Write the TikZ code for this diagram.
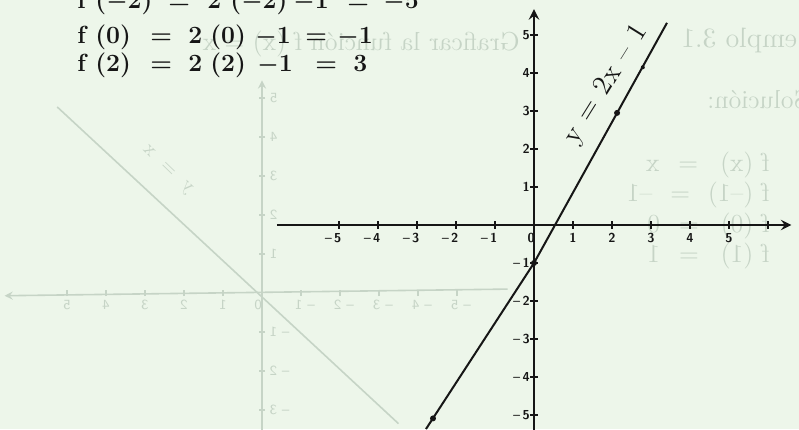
\documentclass[tikz,border=0pt]{standalone}
\usepackage{fontspec}
\usetikzlibrary{arrows,positioning}

\definecolor{paper}{RGB}{237,246,234}
\definecolor{ghost}{RGB}{198,212,198}
\definecolor{ink}{RGB}{22,22,22}

% one piece of a worked value, in a box of fixed width
\newcommand{\valcell}[2]{\makebox[#1][l]{#2}}

\begin{document}
\begin{tikzpicture}[
    x=0.5pt, y=-0.5pt,
    eqline/.style={
        anchor=base west,
        inner sep=0pt,
        text=ink,
        font=\fontsize{12.4}{14}\selectfont\bfseries\boldmath
    },
    ticklabel/.style={
        inner sep=0pt,
        text=ink,
        font=\fontsize{6.5}{7}\selectfont\sffamily\bfseries
    },
    axis/.style={
        draw=ink,
        line width=1.3pt,
        -stealth
    },
    tickmark/.style={
        draw=ink,
        line width=0.9pt
    },
    graph/.style={
        draw=ink,
        line width=1pt
    },
    dot/.style={
        circle,
        fill=ink,
        inner sep=0pt,
        minimum size=3pt
    },
    ghostline/.style={
        draw=ghost,
        line width=0.8pt
    },
    ghosttext/.style={
        xscale=-1,
        inner sep=0pt,
        text=ghost,
        font=\fontsize{13}{15}\selectfont
    },
    ghostnum/.style={
        ghosttext,
        font=\fontsize{7}{8}\selectfont\sffamily
    }
]

    % --- Paper ---
    \fill [paper] (0,0) rectangle (799,429);
    \useasboundingbox (0,0) rectangle (799,429);
    \clip (0,0) rectangle (799,429);

    % --- Show-through from the back of the page (mirrored) ---
    \node [ghosttext, anchor=base west] (gtitle) at (520,50) {Graficar la función f (x) = x};
    \node [ghosttext, anchor=base east, font=\fontsize{14}{16}\selectfont] (gexample) at (681,47) {Ejemplo 3.1};
    \node [ghosttext, anchor=base east] (gsol) at (707,108) {Solución:};
    \node [ghosttext, anchor=base west] (gline1) at (770,171) {f (x)\hspace{11pt}=\hspace{9.5pt}x};
    \node [ghosttext, anchor=base west] (gline2) at (770,201) {f (--1)\hspace{9pt}=\hspace{9pt}--1};
    \node [ghosttext, anchor=base west] (gline3) at (770,232) {f (0)\hspace{11pt}=\hspace{9.5pt}0};
    \node [ghosttext, anchor=base west] (gline4) at (770,262) {f (1)\hspace{11pt}=\hspace{9.5pt}1};

    \begin{scope}[shift={(262,293)}, x=-19.5pt, y=19.5pt]
        \draw [ghostline, -stealth] (-6.3,0.1) -- (6.6,-0.07);
        \draw [ghostline, -stealth] (0,-3.6) -- (0,5.45);
        \foreach \n in {1,...,5} {
            \draw [ghostline] (\n,-0.08) -- (\n,0.08);
            \draw [ghostline] (-\n,-0.08) -- (-\n,0.08);
            \draw [ghostline] (-0.08,\n) -- (0.08,\n);
            \node [ghostnum] (gx\n) at (\n,-0.3) {\n};
            \node [ghostnum] (gxn\n) at (-\n-0.1,-0.3) {-- \n};
            \node [ghostnum] (gy\n) at (-0.3,\n) {\n};
        }
        \foreach \n in {1,...,3} {
            \draw [ghostline] (-0.08,-\n) -- (0.08,-\n);
            \node [ghostnum] (gyn\n) at (-0.45,-\n) {-- \n};
        }
        \node [ghostnum] (go) at (0.1,-0.3) {0};
        \draw [ghostline] (-3.5,-3.35) -- (5.25,4.77);
        \node [ghosttext, rotate=44, font=\fontsize{10}{12}\selectfont] (glabel) at (2.44,3.15) {y \ = \ x};
    \end{scope}

    % --- Worked values ---
    \node [eqline] (val1) at (77,8) {\valcell{9pt}{f}\valcell{36.5pt}{($-$2)}\valcell{19.5pt}{=}\valcell{11.5pt}{2}\valcell{31.5pt}{($-$2)}\valcell{27pt}{$-$1}\valcell{18pt}{=}$-$5};
    \node [eqline] (val2) at (77,43) {\valcell{9pt}{f}\valcell{27.5pt}{(0)}\valcell{19pt}{=}\valcell{11pt}{2}\valcell{22.5pt}{(0)}\valcell{25pt}{$-$1}\valcell{16pt}{=}$-$1};
    \node [eqline] (val3) at (77,71) {\valcell{9pt}{f}\valcell{27.5pt}{(2)}\valcell{19pt}{=}\valcell{11pt}{2}\valcell{23.5pt}{(2)}\valcell{29pt}{$-$1}\valcell{19pt}{=}3};

    % --- Axes ---
    \begin{scope}[shift={(534,225)}, x=19.5pt, y=19pt]
        \draw [axis] (-6.59,0) -- (6.6,0);
        \draw [axis] (0,-5.5) -- (0,5.68);

        \foreach \n in {1,...,6}
            \draw [tickmark] (\n,-0.1) -- (\n,0.1);
        \foreach \n in {1,...,5} {
            \draw [tickmark] (-\n,-0.1) -- (-\n,0.1);
            \draw [tickmark] (-0.1,\n) -- (0.1,\n);
            \draw [tickmark] (-0.1,-\n) -- (0.1,-\n);
            \node [ticklabel, anchor=base] (xp\n) at (\n,-0.47) {\n};
            \node [ticklabel, anchor=base east] (xn\n) at (-\n+0.07,-0.47) {--\,\n};
            \node [ticklabel, anchor=east] (yp\n) at (-0.1,\n) {\n};
            \node [ticklabel, anchor=east] (yn\n) at (-0.1,-\n) {--\,\n};
        }
        \node [ticklabel, anchor=base] (origin) at (-0.07,-0.47) {0};

        % --- Graph of the function ---
        \coordinate (lowend) at (-2.77,-5.37);
        \coordinate (highend) at (3.41,5.32);
        \node [dot] (p0) at (0,-1) {};
        \node [dot] (p1) at (2.13,2.95) {};
        \node [dot, minimum size=2pt] (p2) at (2.79,4.15) {};
        \node [dot] (p3) at (-2.59,-5.09) {};
        \draw [graph] (lowend) -- (p0.center) -- (highend);

        \node [rotate=58, inner sep=0pt, text=ink, font=\fontsize{14}{16}\selectfont] (eqlabel) at (1.86,3.7) {y\hspace{5.5pt}=\hspace{5.5pt}2x\hspace{5.5pt}--\hspace{5.5pt}1};
    \end{scope}

\end{tikzpicture}
\end{document}
